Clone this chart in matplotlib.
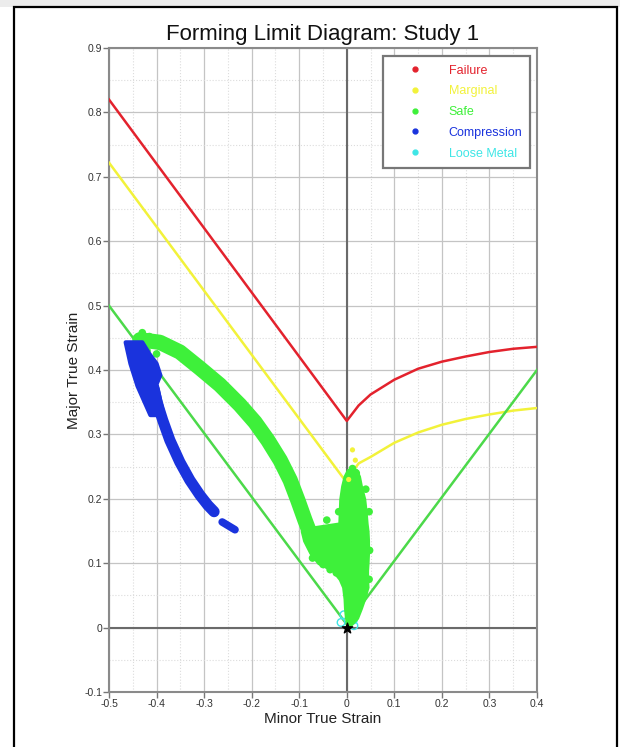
import matplotlib
matplotlib.use("Agg")
import matplotlib.pyplot as plt
from matplotlib.lines import Line2D
from matplotlib.patches import Rectangle
from matplotlib.ticker import MultipleLocator, FuncFormatter

plt.rcParams['font.family'] = ['Liberation Sans', 'DejaVu Sans']

# ---------------- data ----------------
title = "Forming Limit Diagram: Study 1"
x_label = "Minor True Strain"
y_label = "Major True Strain"
legend_labels = ["Failure", "Marginal", "Safe", "Compression", "Loose Metal"]

failure_x = [-0.5, 0.0, 0.025, 0.05, 0.1, 0.15, 0.2, 0.25, 0.3, 0.35, 0.4]
failure_y = [0.82, 0.321, 0.345, 0.362, 0.385, 0.402, 0.413, 0.421, 0.428, 0.433, 0.436]

marginal_x = [-0.5, 0.0, 0.01, 0.025, 0.05, 0.1, 0.15, 0.2, 0.25, 0.3, 0.35, 0.4]
marginal_y = [0.722, 0.225, 0.24, 0.255, 0.265, 0.287, 0.303, 0.315, 0.324, 0.331, 0.337, 0.341]

safe_x = [-0.5, 0.0, 0.4]
safe_y = [0.5, 0.005, 0.4]

# safe (green) strain band
safe_band_x = [-0.435, -0.393, -0.351, -0.309, -0.267, -0.225, -0.193, -0.166, -0.140, -0.119, -0.103, -0.088, -0.075]
safe_band_y = [0.447, 0.443, 0.428, 0.403, 0.377, 0.346, 0.319, 0.291, 0.260, 0.229, 0.198, 0.167, 0.142]

# extent of the dense safe cloud near plane strain: per level, left and right edge
cloud_y     = [0.004, 0.015, 0.030, 0.045, 0.063, 0.075, 0.089, 0.100, 0.116, 0.135, 0.150, 0.156, 0.162, 0.180, 0.200, 0.220, 0.235, 0.245]
cloud_left  = [0.002, -0.002, -0.004, -0.005, -0.008, -0.015, -0.030, -0.060, -0.077, -0.090, -0.095, -0.070, -0.016, -0.015, -0.014, -0.010, -0.005, 0.002]
cloud_right = [0.008, 0.022, 0.030, 0.037, 0.044, 0.043, 0.043, 0.044, 0.045, 0.045, 0.044, 0.043, 0.042, 0.040, 0.037, 0.030, 0.026, 0.020]

# single safe points (upper lobe, ragged edges, outliers)
safe_pts_x = [-0.43, -0.415, -0.42, -0.40, -0.44,
              0.047, 0.048, 0.047, 0.040, 0.036, 0.012, 0.020, -0.017, -0.018, -0.022,
              -0.050, -0.072, -0.035, -0.042, 0.010, 0.005, 0.022]
safe_pts_y = [0.458, 0.452, 0.43, 0.425, 0.44,
              0.18, 0.12, 0.075, 0.215, 0.05, 0.247, 0.24, 0.18, 0.15, 0.085,
              0.098, 0.108, 0.09, 0.167, 0.012, 0.025, 0.03]

# compression (blue): outline of the wide top part, centre line of the tail
comp_top_x = [-0.465, -0.430, -0.415, -0.400, -0.392, -0.400, -0.385, -0.413, -0.440, -0.455]
comp_top_y = [0.443, 0.443, 0.425, 0.410, 0.392, 0.378, 0.330, 0.330, 0.375, 0.410]
comp_x = [-0.405, -0.399, -0.387, -0.372, -0.351, -0.330, -0.309, -0.292, -0.279]
comp_y = [0.370, 0.350, 0.322, 0.291, 0.257, 0.229, 0.206, 0.190, 0.180]
comp_seg_x = [-0.262, -0.235]
comp_seg_y = [0.164, 0.152]

marginal_pts_x = [0.012, 0.018, 0.004]
marginal_pts_y = [0.276, 0.26, 0.23]

loose_x = [-0.012, -0.006, 0.006, 0.014, 0.015]
loose_y = [0.008, 0.02, 0.024, 0.012, 0.003]

# ---------------- colours ----------------
c_red = '#e3222d'
c_yel = '#f2f23a'
c_grn = '#3ef03a'
c_grn_line = '#4cd94a'
c_blu = '#1a33dd'
c_cya = '#3ee6e6'

fig = plt.figure(figsize=(6.2, 7.47), dpi=100)

# page decorations: grey strip on top and the black frame
fig.patches.append(Rectangle((0, 0.9906), 1, 0.02, transform=fig.transFigure,
                             facecolor='#ececec', edgecolor='none', zorder=0))
fig.patches.append(Rectangle((0.0226, -0.05), 0.9726, 1.0406, transform=fig.transFigure,
                             facecolor='none', edgecolor='black', linewidth=1.6, zorder=5))

ax = fig.add_axes([0.1758, 0.0736, 0.6903, 0.8621])
ax.set_xlim(-0.5, 0.4)
ax.set_ylim(-0.1, 0.9)

ax.xaxis.set_major_locator(MultipleLocator(0.1))
ax.yaxis.set_major_locator(MultipleLocator(0.1))
ax.xaxis.set_minor_locator(MultipleLocator(0.05))
ax.yaxis.set_minor_locator(MultipleLocator(0.05))
fmt = FuncFormatter(lambda v, p: ('%g' % round(v, 2)))
ax.xaxis.set_major_formatter(fmt)
ax.yaxis.set_major_formatter(fmt)

ax.grid(which='major', color='#c4c4c4', linewidth=0.9, linestyle='-')
ax.grid(which='minor', color='#dcdcdc', linewidth=0.8, linestyle=':')
ax.set_axisbelow(True)
ax.axhline(0, color='#6a6a6a', linewidth=1.5, zorder=1)
ax.axvline(0, color='#6a6a6a', linewidth=1.5, zorder=1)

for s in ax.spines.values():
    s.set_color('#8a8a8a')
    s.set_linewidth(1.5)
ax.tick_params(which='major', direction='out', length=4, width=1, color='#777777',
               labelsize=7.5, labelcolor='#333333', pad=1)
ax.tick_params(which='minor', length=0)

# limit curves
ax.plot(failure_x, failure_y, color=c_red, linewidth=1.8, zorder=3)
ax.plot(marginal_x, marginal_y, color=c_yel, linewidth=1.8, zorder=3)
ax.plot(safe_x, safe_y, color=c_grn_line, linewidth=1.8, zorder=3)

# point clouds
ax.scatter(loose_x, loose_y, s=30, facecolor='none', edgecolor=c_cya, linewidth=1.0, zorder=4)
ax.plot(safe_band_x, safe_band_y, color=c_grn, linewidth=11, solid_capstyle='round',
        solid_joinstyle='round', zorder=4)
ax.fill_betweenx(cloud_y, cloud_left, cloud_right, facecolor=c_grn, edgecolor=c_grn,
                 linewidth=2.0, zorder=4)
ax.scatter(safe_pts_x, safe_pts_y, s=30, color=c_grn, edgecolor='none', zorder=4)
ax.scatter(marginal_pts_x, marginal_pts_y, s=14, color=c_yel, edgecolor='none', zorder=4)
ax.fill(comp_top_x, comp_top_y, facecolor=c_blu, edgecolor=c_blu, linewidth=3,
        joinstyle='round', zorder=5)
ax.plot(comp_x, comp_y, color=c_blu, linewidth=8, solid_capstyle='round',
        solid_joinstyle='round', zorder=5)
ax.plot(comp_seg_x, comp_seg_y, color=c_blu, linewidth=5.5, solid_capstyle='round', zorder=5)

ax.scatter([0], [0], marker='*', s=60, color='black', zorder=6)

ax.set_title(title, fontsize=16, color='#111111', pad=6)
ax.set_xlabel(x_label, fontsize=11, color='#222222', labelpad=2)
ax.set_ylabel(y_label, fontsize=11, color='#222222', labelpad=2)

colors = [c_red, c_yel, c_grn, c_blu, c_cya]
handles = [Line2D([], [], linestyle='none', marker='o', markersize=3.5,
                  markerfacecolor=c, markeredgecolor=c) for c in colors]
leg = ax.legend(handles, legend_labels, loc='upper left',
                bbox_to_anchor=(0.640, 0.987, 0.344, 0.0), mode='expand',
                borderaxespad=0, fontsize=9, labelspacing=0.7, handlelength=3.8,
                handletextpad=0.8, borderpad=0.65, frameon=True, fancybox=False,
                edgecolor='#777777', framealpha=1)
leg.get_frame().set_linewidth(1.6)
for t, c in zip(leg.get_texts(), colors):
    t.set_color(c)
leg.set_zorder(10)

fig.savefig('out.png', dpi=100)
